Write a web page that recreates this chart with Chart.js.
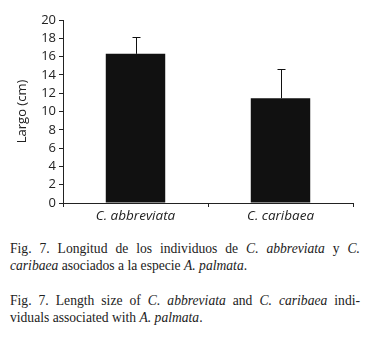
<!DOCTYPE html>
<html><head><meta charset="utf-8">
<script src="https://cdn.jsdelivr.net/npm/chart.js@4/dist/chart.umd.min.js"></script>
<style>
html,body{margin:0;padding:0;background:#fff;width:371px;height:337px;overflow:hidden}
#wrap{position:absolute;left:0;top:0;width:371px;height:225px}
.cap{position:absolute;left:10px;width:350px;font-family:"Liberation Serif",serif;font-size:13.6px;line-height:17px;color:#222;text-align:justify;text-align-last:left}
</style></head><body>
<div id="wrap"><canvas id="c" width="371" height="225"></canvas></div>
<div class="cap" style="top:240px">Fig. 7. Longitud de los individuos de <i>C. abbreviata</i> y <i>C. caribaea</i> asociados a la especie <i>A. palmata</i>.</div>
<div class="cap" style="top:292px">Fig. 7. Length size of <i>C. abbreviata</i> and <i>C. caribaea</i> indi-viduals associated with <i>A. palmata</i>.</div>
<script>
const categories = ["C. abbreviata", "C. caribaea"];
const means = [16.3, 11.45];
const errors = [1.8, 3.15];
const yTicks = [0, 2, 4, 6, 8, 10, 12, 14, 16, 18, 20];

const errPlugin = {
  id: 'err',
  afterDatasetsDraw(chart) {
    const ctx = chart.ctx, ys = chart.scales.y;
    const meta = chart.getDatasetMeta(0);
    ctx.save();
    ctx.strokeStyle = '#111';
    ctx.lineWidth = 1;
    meta.data.forEach((bar, i) => {
      const x = Math.round(bar.x) + 0.5;
      const yTop = ys.getPixelForValue(means[i] + errors[i]);
      const yBase = ys.getPixelForValue(means[i]);
      ctx.beginPath();
      ctx.moveTo(x, yBase);
      ctx.lineTo(x, Math.round(yTop) + 0.5);
      ctx.moveTo(x - 4, Math.round(yTop) + 0.5);
      ctx.lineTo(x + 4, Math.round(yTop) + 0.5);
      ctx.stroke();
    });
    ctx.restore();
  }
};

const font = {family: '"Open Sans", sans-serif', size: 13};
new Chart(document.getElementById('c'), {
  type: 'bar',
  data: {
    labels: categories,
    datasets: [{data: means, backgroundColor: '#111', borderWidth: 0, categoryPercentage: 0.41, barPercentage: 1}]
  },
  options: {
    responsive: false, animation: false,
    layout: {padding: {top: 20, right: 18, left: 14, bottom: 0}},
    plugins: {legend: {display: false}, tooltip: {enabled: false}},
    scales: {
      x: {
        offset: true,
        grid: {offset: true, drawOnChartArea: false, drawTicks: true, tickLength: 4, color: '#222'},
        border: {color: '#222', width: 1},
        ticks: {color: '#222', font: {family: '"Open Sans", sans-serif', size: 13.5, style: 'italic'}, padding: 1},
        afterFit(s) { s.height = 22; }
      },
      y: {
        min: 0, max: 20,
        afterBuildTicks(s) { s.ticks = yTicks.map(v => ({value: v})); },
        grid: {drawOnChartArea: false, drawTicks: true, tickLength: 4, color: '#222'},
        border: {color: '#222', width: 1},
        ticks: {color: '#222', font: font, padding: 3, autoSkip: false},
        title: {display: true, text: 'Largo (cm)', color: '#222', font: {family: '"Open Sans", sans-serif', size: 13}, padding: 0},
        afterFit(s) { s.width = 49; }
      }
    }
  },
  plugins: [errPlugin]
});
</script>
</body></html>
